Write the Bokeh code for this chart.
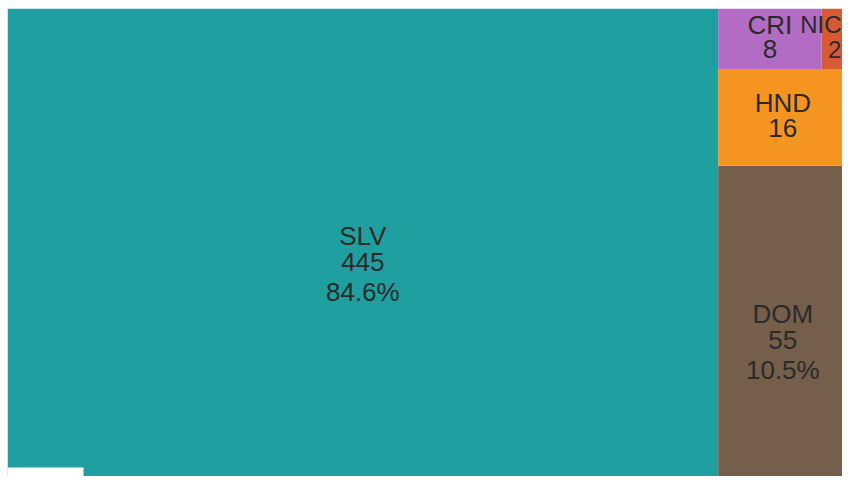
from bokeh.plotting import figure
from bokeh.models import ColumnDataSource, Range1d, BoxAnnotation
from bokeh.core.properties import value
from bokeh.embed import file_html
from bokeh.resources import INLINE

# ---- data ----
countries = ["SLV", "DOM", "HND", "CRI", "NIC"]
counts = [445, 55, 16, 8, 2]
palette = ["#1f9fa0", "#765f4a", "#f39520", "#b36cc3", "#d65b34"]

# treemap drawing area (pixel-like units)
AREA_W, AREA_H = 840, 490
FIG_W, FIG_H = 842, 476
BORDER_L, BORDER_T = 7, 8
FRAME_W, FRAME_H = FIG_W - BORDER_L, FIG_H - BORDER_T
FONT_PX = 26
SMALL_PX = 24

# approximate Liberation Sans advance widths (em)
CHAR_W = {"N": 0.722, "I": 0.278, "C": 0.722, "R": 0.722, "S": 0.667, "L": 0.556,
          "V": 0.667, "H": 0.722, "D": 0.722, "O": 0.778, "M": 0.833, "%": 0.889, ".": 0.278}


def text_width(t, px):
    return sum(CHAR_W.get(ch, 0.556) for ch in t) * px


def normalize(sizes, dx, dy):
    tot = sum(sizes)
    return [s * dx * dy / tot for s in sizes]


def layoutrow(sizes, x, y, dx, dy):
    covered = sum(sizes)
    width = covered / dy
    rects = []
    for s in sizes:
        rects.append((x, y, width, s / width))
        y += s / width
    return rects


def layoutcol(sizes, x, y, dx, dy):
    covered = sum(sizes)
    height = covered / dx
    rects = []
    for s in sizes:
        rects.append((x, y, s / height, height))
        x += s / height
    return rects


def layout(sizes, x, y, dx, dy):
    return layoutrow(sizes, x, y, dx, dy) if dx >= dy else layoutcol(sizes, x, y, dx, dy)


def leftover(sizes, x, y, dx, dy):
    covered = sum(sizes)
    if dx >= dy:
        w = covered / dy
        return (x + w, y, dx - w, dy)
    h = covered / dx
    return (x, y + h, dx, dy - h)


def worst(sizes, x, y, dx, dy):
    return max(max(r[2] / r[3], r[3] / r[2]) for r in layout(sizes, x, y, dx, dy))


def squarify(sizes, x, y, dx, dy):
    if not sizes:
        return []
    if len(sizes) == 1:
        return layout(sizes, x, y, dx, dy)
    i = 1
    while i < len(sizes) and worst(sizes[:i], x, y, dx, dy) >= worst(sizes[:i + 1], x, y, dx, dy):
        i += 1
    cur, rem = sizes[:i], sizes[i:]
    lo = leftover(cur, x, y, dx, dy)
    return layout(cur, x, y, dx, dy) + squarify(rem, *lo)


rects = squarify(normalize(counts, AREA_W, AREA_H), 0, 0, AREA_W, AREA_H)
total = sum(counts)

rect_src = ColumnDataSource(dict(
    left=[r[0] for r in rects],
    right=[r[0] + r[2] for r in rects],
    bottom=[r[1] for r in rects],
    top=[r[1] + r[3] for r in rects],
    color=palette,
))

# label lines
lx, ly, lt, loff, lsize = [], [], [], [], []
for name, c, r in zip(countries, counts, rects):
    share = c / total
    lines = [name, str(c)]
    if share >= 0.05:
        lines.append(f"{share*100:.1f}%")
    offs = [-18, 8, 38] if len(lines) == 3 else [-14, 10.5]
    cx = r[0] + r[2] / 2
    cy = r[1] + r[3] / 2
    for t, o in zip(lines, offs):
        px = FONT_PX
        half = text_width(t, px) / 2
        x = cx
        if cx + half > FRAME_W - 1:
            px = SMALL_PX
            half = text_width(t, px) / 2
            x = min(cx, FRAME_W - 1 - half)
        lx.append(x)
        ly.append(cy)
        lt.append(t)
        loff.append(o)
        lsize.append(f"{px}px")

lab_src = ColumnDataSource(dict(x=lx, y=ly, text=lt, yo=loff, fs=lsize))

p = figure(width=FIG_W, height=FIG_H, output_backend="svg", toolbar_location=None,
           x_range=Range1d(0, FRAME_W), y_range=Range1d(AREA_H - FRAME_H, AREA_H),
           min_border_left=BORDER_L, min_border_top=BORDER_T,
           min_border_right=0, min_border_bottom=0, outline_line_color=None)
p.axis.visible = False
p.grid.visible = False
p.background_fill_color = "white"
p.border_fill_color = "white"

p.quad(left="left", right="right", bottom="bottom", top="top", fill_color="color",
       line_color=None, source=rect_src)

p.text(x="x", y="y", text="text", y_offset="yo", source=lab_src,
       text_font=value("Liberation Sans"), text_font_size="fs",
       text_color="#2a2a2a", text_align="center", text_baseline="alphabetic")

# logo placeholder box (bottom-left)
p.add_layout(BoxAnnotation(left=0, right=76, bottom=AREA_H - FRAME_H, top=31,
                           fill_color="white", fill_alpha=1, line_color=None))

open("out.html", "w").write(file_html(p, INLINE))
